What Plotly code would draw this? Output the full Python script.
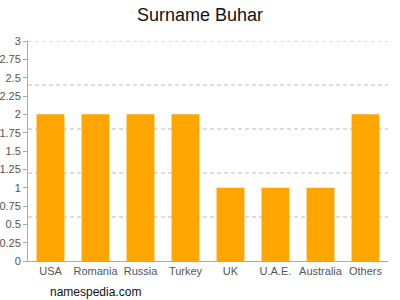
import plotly.graph_objects as go

categories = ["USA", "Romania", "Russia", "Turkey", "UK", "U.A.E.", "Australia", "Others"]
values = [2, 2, 2, 2, 1, 1, 1, 2]
y_ticks = [0, 0.25, 0.5, 0.75, 1, 1.25, 1.5, 1.75, 2, 2.25, 2.5, 2.75, 3]
y_tick_labels = ["0", "0.25", "0.5", "0.75", "1", "1.25", "1.5", "1.75", "2", "2.25", "2.5", "2.75", "3"]
grid_values = [0.6, 1.2, 1.8, 2.4, 3.0]

fig = go.Figure()
fig.add_trace(go.Bar(
    x=categories, y=values, marker=dict(color="#FFA500", line=dict(width=0)),
    width=0.62, showlegend=False, hoverinfo="skip",
))

grid_shapes = [dict(type="line", xref="paper", x0=0, x1=1, yref="y", y0=g, y1=g,
                    line=dict(color="#bbbbbb", width=1, dash="4px,3px"), layer="below")
               for g in grid_values]

fig.update_layout(
    width=400, height=300,
    margin=dict(l=28, r=12, t=41, b=39),
    paper_bgcolor="white", plot_bgcolor="white",
    font=dict(family="Liberation Sans, Arial, sans-serif", color="#555555", size=11),
    title=dict(text="Surname Buhar", x=0.5, xanchor="center", y=0.952, yanchor="middle",
               font=dict(size=18, color="#111111")),
    xaxis=dict(showline=True, linecolor="#aaaaaa", linewidth=1, showgrid=False,
               ticks="", automargin=False, tickfont=dict(size=11, color="#555555")),
    yaxis=dict(range=[0, 3], tickvals=y_ticks, ticktext=y_tick_labels, showgrid=False,
               showline=True, linecolor="#aaaaaa", linewidth=1, ticks="outside",
               ticklen=4, tickcolor="#aaaaaa", zeroline=False, automargin=False,
               tickfont=dict(size=11, color="#555555")),
    shapes=grid_shapes,
    annotations=[dict(text="namespedia.com", xref="paper", yref="paper", x=(48 - 28) / 360,
                      xanchor="left", y=-31 / 220, yanchor="middle", showarrow=False,
                      font=dict(size=12, color="#111111"))],
)
fig.write_html("out.html")
